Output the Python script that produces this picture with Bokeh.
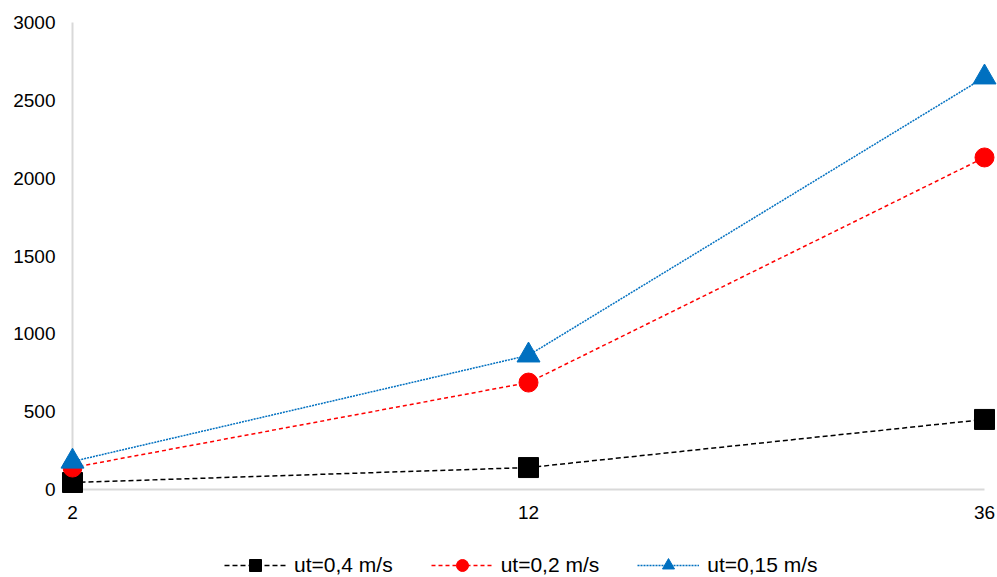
from bokeh.plotting import figure
from bokeh.models import Range1d, Legend, LegendItem
from bokeh.core.properties import value
from bokeh.embed import file_html
from bokeh.resources import INLINE

# Series values per time point
times = ["2", "12", "36"]
ut_04 = [45, 141, 450]
ut_02 = [141, 687, 2133]
ut_015 = [180, 862, 2648]
y_ticks = [0, 500, 1000, 1500, 2000, 2500, 3000]

labels = ["ut=0,4 m/s", "ut=0,2 m/s", "ut=0,15 m/s"]
colors = ["#000000", "#FF0000", "#0070C0"]
markers = ["square", "circle", "triangle"]
marker_sizes = [20, 19, 23]
dashes = ["5 3", "4 3", "2 1"]

xs = list(range(len(times)))
FONT = "Liberation Sans"

# Whole canvas is the plotting frame; axes are drawn by hand below
W, H = 997, 577
px_x = 456.0            # pixels per category step
px_y = 467.0 / 3000.0   # pixels per unit of value
x0 = -72 / px_x
y1 = y_ticks[-1] + 22 / px_y

p = figure(frame_width=W, frame_height=H, output_backend="svg", toolbar_location=None,
           x_range=Range1d(x0, x0 + W / px_x), y_range=Range1d(y1 - H / px_y, y1),
           min_border=0, min_border_left=0, min_border_right=0,
           min_border_top=0, min_border_bottom=0)
p.axis.visible = False
p.grid.visible = False
p.outline_line_color = None
p.background_fill_color = "white"
p.border_fill_color = "white"

# light grey axis lines spanning the data extent
p.segment(x0=[xs[0], xs[0]], y0=[y_ticks[0], y_ticks[0]],
          x1=[xs[0], xs[-1]], y1=[y_ticks[-1], y_ticks[0]],
          line_color="#D9D9D9", line_width=2)

# value tick labels to the left of the vertical axis
p.text(x=[xs[0]] * len(y_ticks), y=y_ticks, text=[str(t) for t in y_ticks],
       x_offset=-17, y_offset=0, text_align="right", text_baseline="alphabetic",
       text_font=value(FONT), text_font_size="19px", text_color="#000000")

# category labels under the horizontal axis
p.text(x=xs, y=[y_ticks[0]] * len(xs), text=times,
       y_offset=23, text_align="center", text_baseline="alphabetic",
       text_font=value(FONT), text_font_size="19px", text_color="#000000")

items = []
for ys, lab, col, mk, ms, dash in zip([ut_04, ut_02, ut_015], labels, colors, markers, marker_sizes, dashes):
    ln = p.line(xs, ys, line_color=col, line_width=1.5, line_dash=dash)
    sc = p.scatter(xs, ys, marker=mk, size=ms, fill_color=col, line_color=col)
    items.append(LegendItem(label=lab, renderers=[ln, sc]))

# horizontal legend along the bottom edge
legend = Legend(items=items, orientation="horizontal", location=(224, -3),
                glyph_width=62, glyph_height=30, label_standoff=8, spacing=38,
                padding=0, margin=0, border_line_color=None, background_fill_alpha=0,
                label_text_font=FONT, label_text_font_size="21px", label_text_color="#000000")
p.add_layout(legend, "center")

open("out.html", "w").write(file_html(p, INLINE))
